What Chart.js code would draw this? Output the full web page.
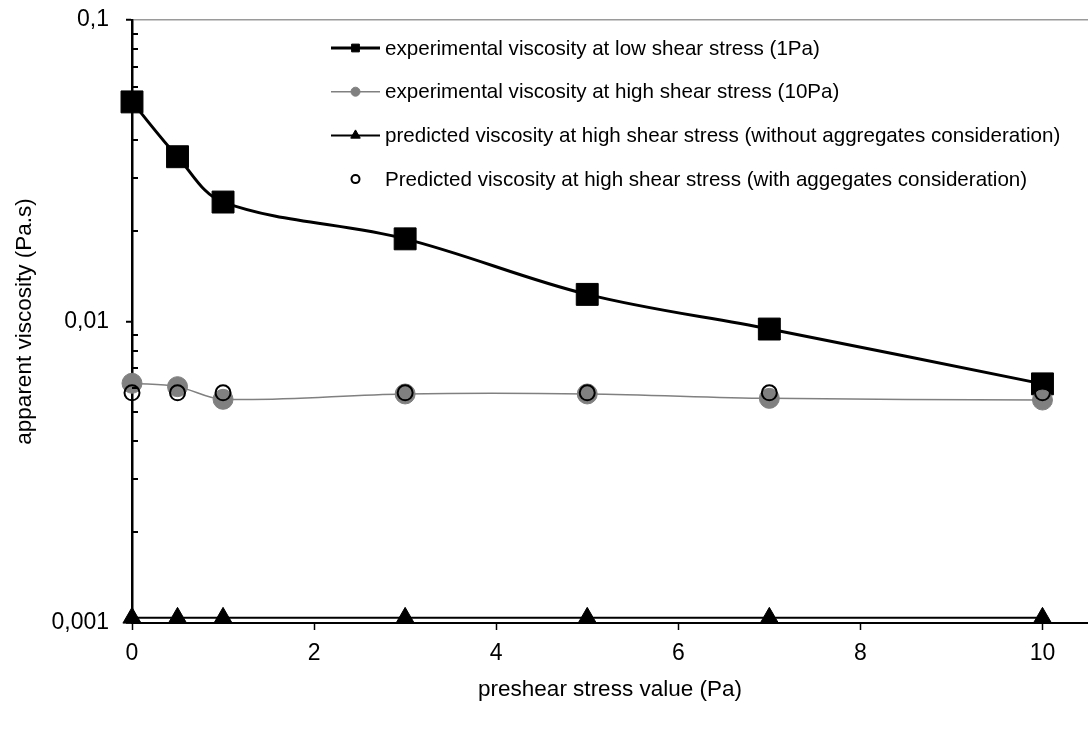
<!DOCTYPE html>
<html>
<head>
<meta charset="utf-8">
<script src="https://cdn.jsdelivr.net/npm/chart.js@4.4.1/dist/chart.umd.min.js"></script>
<style>
  html, body { margin: 0; padding: 0; background: #fff; }
</style>
</head>
<body>
<canvas id="chart" width="1088" height="731"></canvas>
<script>
// valeurs
const preshear = [0, 0.5, 1, 3, 5, 7, 10];
const lowShear = [0.0535, 0.0352, 0.0249, 0.0188, 0.0123, 0.00944, 0.00621];
const highShear = [0.00624, 0.00608, 0.00552, 0.00575, 0.00575, 0.00556, 0.00549];
const predNoAgg = [0.00104, 0.00104, 0.00104, 0.00104, 0.00104, 0.00104, 0.00104];
const predAgg = [0.0058, 0.0058, 0.0058, 0.0058, 0.0058, 0.0058, 0.0058];

const xTicks = [0, 2, 4, 6, 8, 10];
const yTicks = [0.001, 0.01, 0.1];
const yTickLabels = ['0,001', '0,01', '0,1'];

const seriesNames = [
  'experimental viscosity at low shear stress (1Pa)',
  'experimental viscosity at high shear stress (10Pa)',
  'predicted viscosity at high shear stress (without aggregates consideration)',
  'Predicted viscosity at high shear stress (with aggegates consideration)'
];

const FONT = "'Liberation Sans', Arial, sans-serif";
Chart.defaults.font.family = FONT;
Chart.defaults.color = '#000';

const pts = arr => preshear.map((x, i) => ({ x: x, y: arr[i] }));

// légende dans la zone du graphique + petits traits mineurs à l'intérieur
const extras = {
  id: 'extras',
  afterDatasetsDraw(chart) {
    const ctx = chart.ctx;
    const ys = chart.scales.y;
    const left = chart.chartArea.left;
    ctx.save();
    ctx.strokeStyle = '#000';
    ctx.lineWidth = 2;
    for (let d = 0.001; d < 0.1; d *= 10) {
      for (let k = 2; k <= 9; k++) {
        const py = Math.round(ys.getPixelForValue(d * k));
        ctx.beginPath();
        ctx.moveTo(left, py);
        ctx.lineTo(left + 6, py);
        ctx.stroke();
      }
    }
    ctx.restore();
  },
  afterDraw(chart) {
    const ctx = chart.ctx;
    const x0 = 331, x1 = 380, tx = 385, y0 = 48, step = 43.7;
    const sizes = [5.5, 4.5, 5.5, 4];
    ctx.save();
    ctx.font = '20.6px ' + FONT;
    ctx.textBaseline = 'middle';
    chart.data.datasets.forEach((ds, i) => {
      const y = y0 + i * step;
      if (ds.showLine !== false) {
        ctx.strokeStyle = ds.borderColor;
        ctx.lineWidth = ds.borderWidth;
        ctx.beginPath();
        ctx.moveTo(x0, y);
        ctx.lineTo(x1, y);
        ctx.stroke();
      }
      ctx.fillStyle = ds.pointBackgroundColor;
      ctx.strokeStyle = ds.pointBorderColor;
      ctx.lineWidth = ds.pointBorderWidth;
      Chart.helpers.drawPoint(ctx, {
        pointStyle: ds.pointStyle, radius: sizes[i], rotation: 0,
        borderWidth: ds.pointBorderWidth
      }, (x0 + x1) / 2, y);
      ctx.fillStyle = '#000';
      ctx.fillText(seriesNames[i], tx, y + 1);
    });
    ctx.restore();
  }
};

const data = {
  datasets: [
    {
      label: seriesNames[0],
      data: pts(lowShear),
      borderColor: '#000',
      borderWidth: 3,
      tension: 0.35,
      pointStyle: 'rect',
      pointRadius: 15.5,
      pointBackgroundColor: '#000',
      pointBorderColor: '#000',
      pointBorderWidth: 1,
      clip: false,
      order: 2
    },
    {
      label: seriesNames[1],
      data: pts(highShear),
      borderColor: '#808080',
      borderWidth: 1.5,
      tension: 0.35,
      pointStyle: 'circle',
      pointRadius: 10,
      pointBackgroundColor: '#808080',
      pointBorderColor: '#808080',
      pointBorderWidth: 1,
      clip: false,
      order: 1
    },
    {
      label: seriesNames[2],
      data: pts(predNoAgg),
      borderColor: '#000',
      borderWidth: 2,
      tension: 0,
      pointStyle: 'triangle',
      pointRadius: 10.5,
      pointBackgroundColor: '#000',
      pointBorderColor: '#000',
      pointBorderWidth: 1,
      clip: false,
      order: 3
    },
    {
      label: seriesNames[3],
      data: pts(predAgg),
      showLine: false,
      borderColor: '#000',
      borderWidth: 0,
      pointStyle: 'circle',
      pointRadius: 7.5,
      pointBackgroundColor: 'rgba(0,0,0,0)',
      pointBorderColor: '#000',
      pointBorderWidth: 2,
      clip: false,
      order: 0
    }
  ]
};

const config = {
  type: 'line',
  data: data,
  options: {
    responsive: false,
    animation: false,
    layout: { autoPadding: false, padding: { top: 20, right: 0, left: 0, bottom: 0 } },
    plugins: {
      legend: { display: false },
      tooltip: { enabled: false }
    },
    scales: {
      x: {
        type: 'linear',
        min: 0,
        max: 10.5,
        afterBuildTicks: s => { s.ticks = xTicks.map(v => ({ value: v })); },
        afterFit: s => { s.height = 108; s.paddingLeft = 0; s.paddingRight = 0; },
        ticks: { font: { size: 23 }, padding: 10, autoSkip: false, maxRotation: 0 },
        grid: { drawOnChartArea: false, tickLength: 7, tickColor: '#000', tickWidth: 1.5 },
        border: { color: '#000', width: 2 },
        title: {
          display: true,
          text: 'preshear stress value (Pa)',
          font: { size: 22.5 },
          padding: { top: 0, bottom: 27.5 }
        }
      },
      y: {
        type: 'logarithmic',
        min: 0.001,
        max: 0.1,
        afterBuildTicks: s => { s.ticks = yTicks.map(v => ({ value: v, major: true })); },
        afterFit: s => { s.width = 132; s.paddingTop = 0; s.paddingBottom = 0; },
        ticks: {
          font: { size: 23 },
          padding: 17,
          autoSkip: false,
          callback: v => {
            const i = yTicks.findIndex(t => Math.abs(t - v) < t * 1e-6);
            return i >= 0 ? yTickLabels[i] : '';
          }
        },
        grid: {
          color: c => (c.tick && Math.abs(c.tick.value - 0.1) < 1e-9) ? '#9a9a9a' : 'rgba(0,0,0,0)',
          lineWidth: 1.5,
          tickLength: 6,
          tickColor: '#000',
          tickWidth: 2
        },
        border: { color: '#000', width: 2.5 },
        title: {
          display: true,
          text: 'apparent viscosity (Pa.s)',
          font: { size: 22.5 },
          padding: { top: 11.5, bottom: 0 }
        }
      }
    }
  },
  plugins: [extras]
};

const chart = new Chart(document.getElementById('chart'), config);
</script>
</body>
</html>
